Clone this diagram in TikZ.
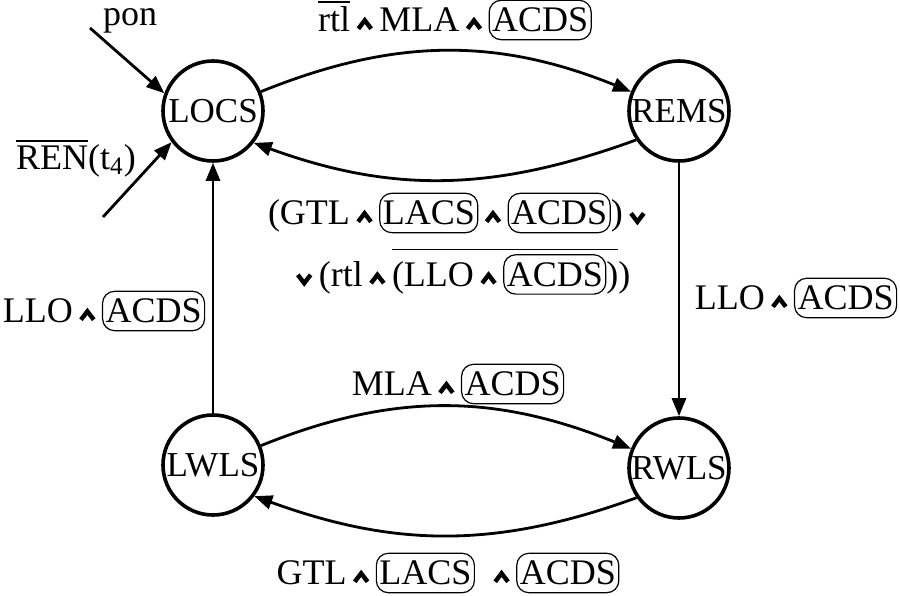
\documentclass[tikz,border=0pt]{standalone}
\usepackage{fontspec}
\setmainfont{Liberation Serif}
\usepackage{amsmath}
\usetikzlibrary{arrows.meta}

\newcommand\rbox[1]{\tikz[baseline=(bx.base)]\node[draw,rounded corners=6pt,inner xsep=1.5pt,inner ysep=3.8pt,line width=.6pt](bx){#1};}
\newcommand\myand{\hspace{3pt}\tikz[baseline=-1.5pt]\draw[line width=2.2pt,line join=miter] (0,0)--(3.2pt,4.2pt)--(6.4pt,0);\hspace{3pt}}
\newcommand\myor{\hspace{3pt}\tikz[baseline=-1.5pt]\draw[line width=2.2pt,line join=miter] (0,4.2pt)--(3.2pt,0)--(6.4pt,4.2pt);\hspace{3pt}}

\tikzset{
  state/.style={circle,draw,line width=1.8pt,minimum size=50pt,inner sep=0pt,font=\fontsize{17.5}{21}\selectfont},
  trans/.style={line width=1.4pt,-{Triangle[length=9pt,width=7pt]}},
  lbl/.style={inner sep=0pt}
}

\begin{document}
\begin{tikzpicture}[x=0.5pt,y=0.5pt,font=\fontsize{18}{21}\selectfont]
\useasboundingbox (0,0) rectangle (900,595);
% states
\node[state] (LOCS) at (213,484) {LOCS};
\node[state] (REMS) at (679,484) {REMS};
\node[state] (LWLS) at (213,130) {LWLS};
\node[state] (RWLS) at (679,127) {RWLS};

% entry arrows
\node[lbl] (pon) at (130,574) {pon};
\coordinate (ponA) at (90,567);
\draw[trans] (ponA) -- (LOCS.160);
\node[lbl] (ren) at (76,437) {$\overline{\mbox{REN}}$(t\textsubscript{4})};
\coordinate (renA) at (103,378);
\draw[trans] (renA) -- (LOCS.217);

% transitions
\draw[trans] (LOCS.22) to[out=22,in=158] (REMS.158);
\draw[trans] (REMS.214) to[out=200,in=-20] (LOCS.-38);
\draw[trans] (LWLS) -- (LOCS);
\draw[trans] (REMS) -- (RWLS);
\draw[trans] (LWLS.22) to[out=22,in=158] (RWLS.158);
\draw[trans] (RWLS.-145) to[out=200,in=-20] (LWLS.-37);

% labels
\node[lbl] (top) at (455,575) {$\overline{\mbox{rtl}}$\myand MLA\myand\rbox{ACDS}};
\node[lbl] (midA) at (457,382) {(GTL\myand\rbox{LACS}\myand\rbox{ACDS})\myor};
\node[lbl] (midB) at (460,324) {\myor(rtl\myand$\overline{\mbox{(LLO\myand\rbox{ACDS})}}$)};
\node[lbl] (left) at (104,284) {LLO\myand\rbox{ACDS}};
\node[lbl] (right) at (796,297) {LLO\myand\rbox{ACDS}};
\node[lbl] (bot1) at (458,211) {MLA\myand\rbox{ACDS}};
\node[lbl] (bot2) at (448,22) {GTL\myand\rbox{LACS}\hspace{6pt}\myand\rbox{ACDS}};
\end{tikzpicture}
\end{document}
